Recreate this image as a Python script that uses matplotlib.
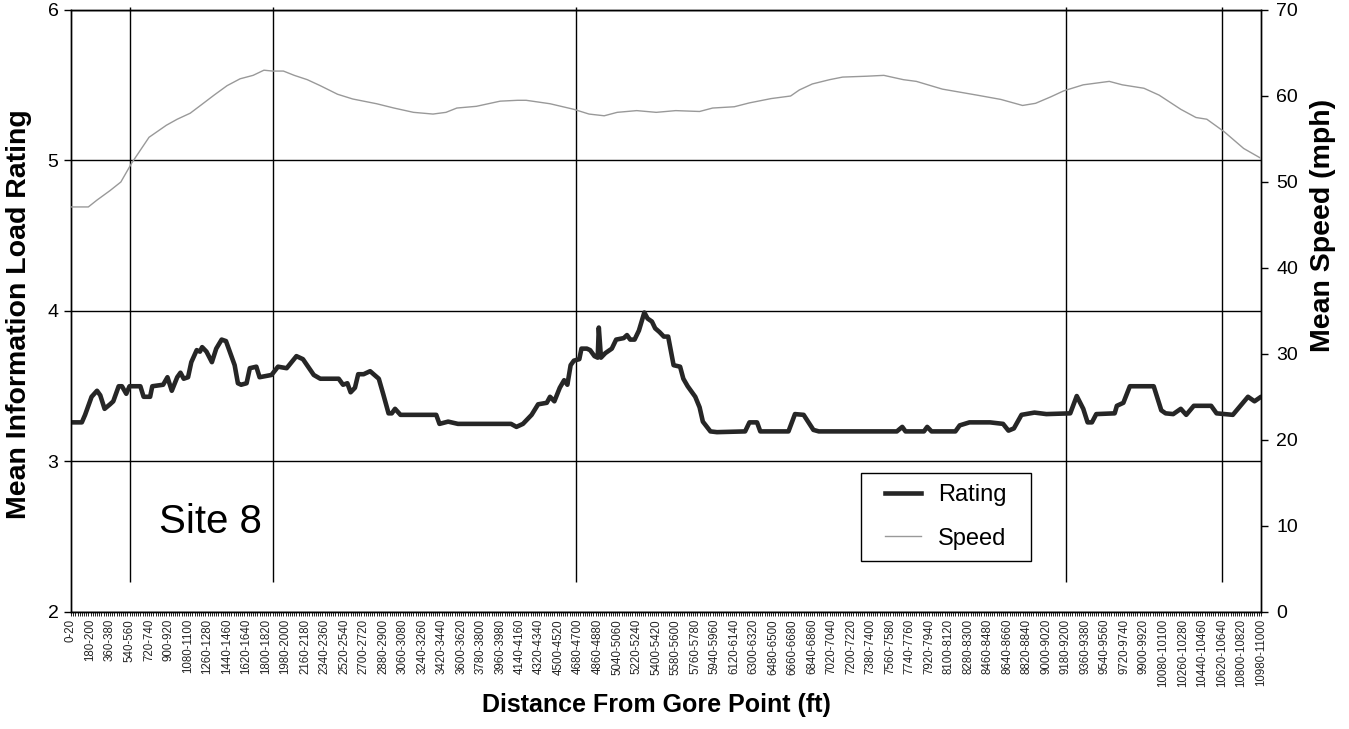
import matplotlib
matplotlib.use("Agg")
import matplotlib.pyplot as plt
from matplotlib.patches import Rectangle
from matplotlib.lines import Line2D
import numpy as np

plt.rcParams['font.family'] = ['Liberation Sans', 'DejaVu Sans']

# 20 ft bins along the ramp
bin_ft = 20
total_ft = 11000
label_every = 9

# mean information load rating, (distance ft, rating)
rating_ft = [0, 100, 130, 190, 240, 270, 310, 360, 390, 440, 470, 510, 540, 640, 670, 730,
             750, 850, 890, 930, 980, 1010, 1040, 1080, 1110, 1160, 1190, 1210, 1250, 1300,
             1340, 1390, 1430, 1470, 1510, 1540, 1570, 1620, 1650, 1710, 1740, 1850, 1910,
             1990, 2080, 2140, 2240, 2300, 2470, 2510, 2550, 2580, 2620, 2650, 2700, 2760,
             2840, 2880, 2930, 2960, 2990, 3040, 3370, 3400, 3480, 3570, 4020, 4060, 4110,
             4170, 4250, 4310, 4390, 4420, 4460, 4510, 4550, 4580, 4610, 4640, 4690, 4710,
             4760, 4790, 4830, 4860, 4870, 4890, 4930, 4990, 5030, 5100, 5130, 5160, 5200,
             5240, 5290, 5320, 5360, 5390, 5430, 5470, 5510, 5560, 5620, 5650, 5690, 5760,
             5800, 5830, 5900, 5960, 6220, 6260, 6330, 6360, 6620, 6680, 6760, 6850, 6900,
             7620, 7670, 7700, 7870, 7900, 7940, 8160, 8200, 8290, 8480, 8600, 8650, 8700,
             8770, 8890, 9000, 9220, 9280, 9340, 9380, 9420, 9460, 9630, 9650, 9710, 9770,
             9990, 10060, 10100, 10170, 10240, 10290, 10360, 10520, 10570, 10720, 10790,
             10860, 10920, 10980]
rating = [3.26, 3.26, 3.31, 3.43, 3.47, 3.44, 3.35, 3.38, 3.40, 3.50, 3.50, 3.45, 3.50, 3.50,
          3.43, 3.43, 3.50, 3.51, 3.56, 3.47, 3.56, 3.59, 3.55, 3.56, 3.66, 3.74, 3.73, 3.76,
          3.73, 3.66, 3.75, 3.81, 3.80, 3.72, 3.64, 3.52, 3.51, 3.52, 3.62, 3.63, 3.56, 3.575,
          3.63, 3.62, 3.70, 3.68, 3.575, 3.55, 3.55, 3.51, 3.52, 3.46, 3.49, 3.58, 3.58, 3.60,
          3.55, 3.45, 3.32, 3.32, 3.35, 3.31, 3.31, 3.25, 3.265, 3.25, 3.25, 3.25, 3.23, 3.25,
          3.31, 3.38, 3.39, 3.43, 3.40, 3.49, 3.54, 3.51, 3.64, 3.67, 3.68, 3.75, 3.75, 3.74,
          3.70, 3.69, 3.89, 3.69, 3.72, 3.75, 3.81, 3.82, 3.84, 3.81, 3.81, 3.87, 3.99, 3.95,
          3.93, 3.885, 3.86, 3.83, 3.83, 3.64, 3.63, 3.55, 3.50, 3.43, 3.36, 3.265, 3.20,
          3.195, 3.20, 3.26, 3.26, 3.20, 3.20, 3.315, 3.31, 3.21, 3.20, 3.20, 3.23, 3.20,
          3.20, 3.23, 3.20, 3.20, 3.24, 3.26, 3.26, 3.25, 3.205, 3.22, 3.31, 3.325, 3.315,
          3.32, 3.435, 3.35, 3.26, 3.26, 3.315, 3.32, 3.37, 3.39, 3.50, 3.50, 3.34, 3.32,
          3.315, 3.35, 3.31, 3.37, 3.37, 3.32, 3.31, 3.37, 3.43, 3.40, 3.43]

# mean speed (mph)
speed_ft = [0, 160, 240, 360, 460, 560, 640, 720, 880, 980, 1100, 1200, 1320, 1440, 1560,
            1680, 1780, 1860, 1960, 2060, 2180, 2300, 2460, 2600, 2820, 2980, 3160, 3340,
            3460, 3560, 3740, 3960, 4120, 4200, 4420, 4640, 4780, 4920, 5040, 5220, 5400,
            5580, 5800, 5920, 6120, 6260, 6460, 6640, 6720, 6840, 7000, 7120, 7340, 7500,
            7680, 7800, 8040, 8360, 8580, 8780, 8900, 9040, 9160, 9340, 9580, 9700, 9900,
            10040, 10240, 10380, 10480, 10640, 10820, 10980]
speed = [47.1, 47.1, 47.9, 49.0, 50.0, 52.2, 53.7, 55.2, 56.6, 57.3, 58.0, 58.95, 60.1, 61.2,
         62.0, 62.4, 63.0, 62.9, 62.9, 62.4, 61.9, 61.2, 60.2, 59.65, 59.1, 58.6, 58.1, 57.9,
         58.1, 58.6, 58.8, 59.4, 59.5, 59.5, 59.1, 58.45, 57.9, 57.7, 58.1, 58.3, 58.1, 58.3,
         58.2, 58.6, 58.75, 59.2, 59.7, 60.0, 60.7, 61.4, 61.9, 62.2, 62.3, 62.4, 61.9, 61.7,
         60.8, 60.1, 59.6, 58.9, 59.15, 59.9, 60.6, 61.3, 61.7, 61.3, 60.9, 60.1, 58.45, 57.5,
         57.3, 55.85, 53.9, 52.75]

# sign locations along the ramp
sign_ft = [540, 1860, 4660, 9180, 10620]

bin_starts = list(range(0, total_ft, bin_ft))
bin_labels = [f"{d}-{d + bin_ft}" for d in bin_starts]

W, H = 1349, 729
fig = plt.figure(figsize=(W / 100, H / 100), dpi=100)
ax = fig.add_axes([71 / W, 1 - 612 / H, 1190 / W, 602 / H])
ax2 = ax.twinx()

to_cat = lambda ft: np.asarray(ft) / bin_ft

ax.set_ylim(2, 6)
ax.set_yticks([2, 3, 4, 5, 6])
ax.set_xlim(0, len(bin_starts) - 1)
ax.grid(axis='y', color='black', linewidth=1.0)
ax.set_axisbelow(True)

ax.vlines(to_cat(sign_ft), 2.2, 6.02, color='black', linewidth=1.0, clip_on=False, zorder=2)

ax.plot(to_cat(rating_ft), rating, color='#262626', linewidth=3.3, zorder=4,
        solid_joinstyle='round', solid_capstyle='round')

ax2.set_ylim(0, 70)
ax2.set_yticks(range(0, 71, 10))
ax2.plot(to_cat(speed_ft), speed, color='#999999', linewidth=1.0, zorder=3)

# category axis: every bin ticked, every ninth labelled
ax.set_xticks(range(0, len(bin_starts), label_every))
ax.set_xticklabels(bin_labels[::label_every], rotation=90, fontsize=8.3, color='#222222')
ax.set_xticks(range(len(bin_starts)), minor=True)
ax.tick_params(axis='x', which='both', direction='out', length=3, width=0.6, pad=2)
ax.tick_params(axis='y', direction='out', length=5, width=1.0, labelsize=14, pad=4)
ax2.tick_params(axis='y', direction='out', length=5, width=1.0, labelsize=14, pad=6)

for a in (ax, ax2):
    for s in a.spines.values():
        s.set_color('black')
        s.set_linewidth(1.0)

fig.text(656 / W, 1 - 705 / H, "Distance From Gore Point (ft)", fontsize=18,
         fontweight='bold', ha='center', va='center')
fig.text(19 / W, 1 - 314 / H, "Mean Information Load Rating", fontsize=20.5,
         fontweight='bold', ha='center', va='center', rotation=90)
fig.text(1323 / W, 1 - 225 / H, "Mean Speed (mph)", fontsize=20.5,
         fontweight='bold', ha='center', va='center', rotation=90)

ax.text(0.074, 0.15, "Site 8", transform=ax.transAxes, fontsize=29, ha='left',
        va='center')

handles = [Line2D([], [], color='#262626', linewidth=3.3),
           Line2D([], [], color='#999999', linewidth=1.0)]
leg = ax2.legend(handles, ["Rating", "Speed"], loc='center',
                 bbox_to_anchor=(946 / W, 1 - 517 / H), bbox_transform=fig.transFigure,
                 frameon=False, fontsize=17, handlelength=1.5, handletextpad=0.75,
                 labelspacing=0.9, borderpad=0.2)
fig.patches.append(Rectangle((861 / W, 1 - 561 / H), 170 / W, 88 / H,
                             transform=fig.transFigure, fill=False,
                             edgecolor='black', linewidth=1.0))

fig.savefig("out.png", dpi=100)
